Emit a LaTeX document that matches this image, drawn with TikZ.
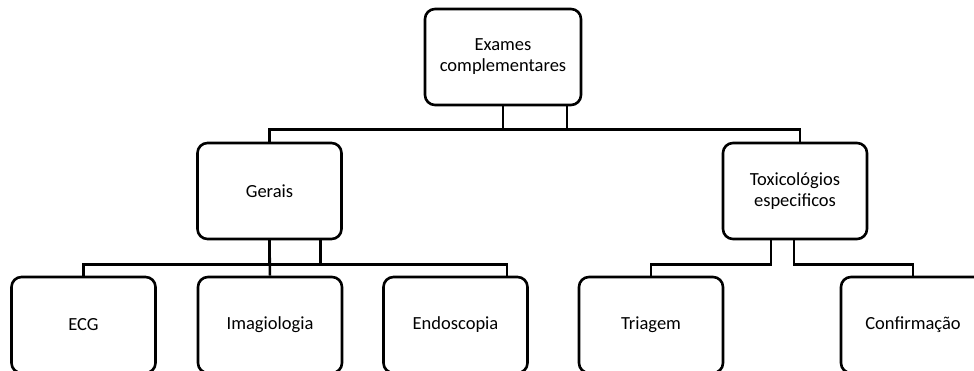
\documentclass[tikz,border=0pt]{standalone}
\usepackage{fontspec}
\setmainfont{Carlito}

\begin{document}
\begin{tikzpicture}[x=1pt, y=-1pt]
% Define the node styles
\tikzstyle{box} = [draw, rectangle, rounded corners=10pt, line width=2.6pt, inner sep=0pt,
  minimum width=144pt, minimum height=96pt, align=center,
  font=\fontsize{18.5}{21}\selectfont]
\tikzstyle{wide} = [box, minimum width=156pt]
\tikzstyle{link} = [line width=2.5pt]

\useasboundingbox (0,0) rectangle (974,371);
\clip (0,0) rectangle (974,371);

% Define the nodes
\node[wide] (top) at (503, 57) {Exames\\complementares};
\node[box] (gerais) at (269.5, 191) {Gerais};
\node[box] (tox) at (795, 191) {Toxicológios\\especificos};
\node[box] (ecg) at (83.5, 325) {ECG};
\node[box] (imag) at (270, 325) {Imagiologia};
\node[box] (endo) at (455.5, 325) {Endoscopia};
\node[box] (tri) at (651, 325) {Triagem};
\node[box] (conf) at (913, 325) {Confirmação};

% Define the connectors
\draw[link] (top.south) -- ++(0,23) -| ([xshift=5pt]tox.north);
\draw[link] ([xshift=64pt]top.south) -- ++(0,23) -| (gerais.north);

\draw[link] (gerais.south) -- (imag.north);
\draw[link] ([xshift=51pt]gerais.south) -- ++(0,24) -| (ecg.north);
\draw[link] (gerais.south) -- ++(0,24) -| ([xshift=51.5pt]endo.north);

\draw[link] ([xshift=-24pt]tox.south) -- ++(0,24) -| (tri.north);
\draw[link] ([xshift=-1pt]tox.south) -- ++(0,24) -| (conf.north);

\end{tikzpicture}
\end{document}
